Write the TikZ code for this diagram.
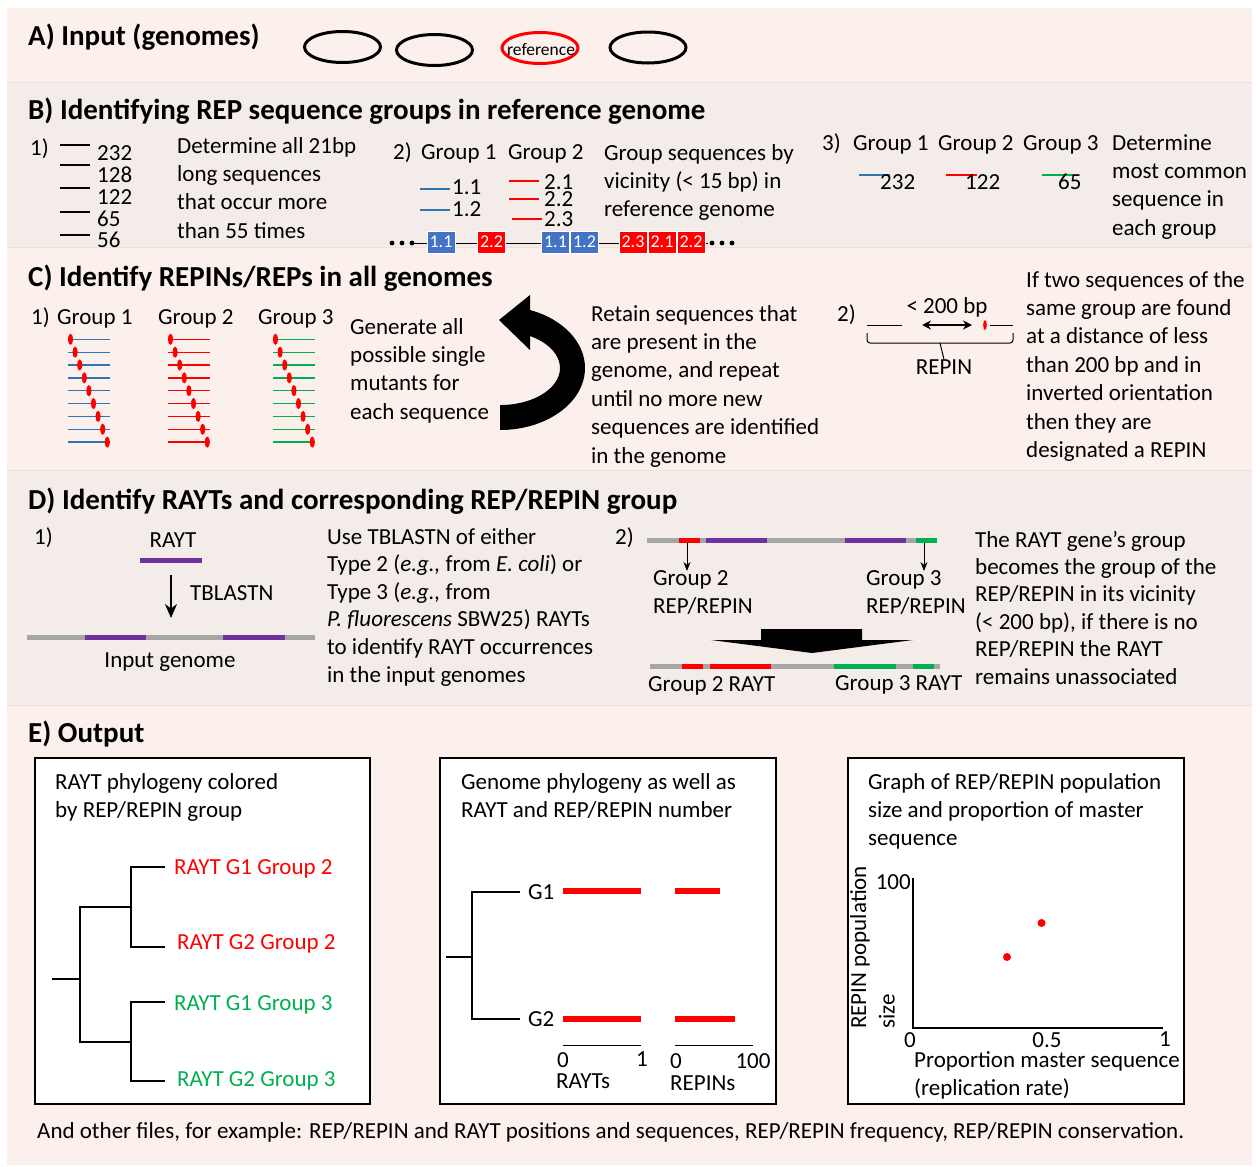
\documentclass[tikz,border=0pt]{standalone}
\usepackage{fontspec}
\setmainfont{Carlito}
\usetikzlibrary{positioning,shapes.geometric,arrows.meta,calc}
\definecolor{bandpeach}{RGB}{251,240,235}
\definecolor{bandgray}{RGB}{243,236,233}
\definecolor{bandline}{RGB}{238,224,216}
\definecolor{seqblue}{RGB}{68,114,196}
\definecolor{lineblue}{RGB}{46,117,182}
\definecolor{repred}{RGB}{255,0,0}
\definecolor{repgreen}{RGB}{0,176,80}
\definecolor{raytpurple}{RGB}{112,48,160}
\definecolor{genomegray}{RGB}{166,166,166}

\begin{document}
\begin{tikzpicture}[
    x=1pt, y=-1pt,
    >=Stealth,
    txt/.style={font=\fontsize{23}{28.4}\selectfont, align=left, anchor=base west, inner sep=0pt},
    lbl/.style={font=\fontsize{23}{28.4}\selectfont, inner sep=0pt},
    num/.style={txt, text height=14pt, text depth=0pt},
    ttl/.style={font=\fontsize{29}{34}\selectfont\bfseries, anchor=base west, inner sep=0pt},
    genome/.style={draw=black, line width=3pt, ellipse, minimum width=76pt, minimum height=31pt, inner sep=0pt},
    seqbox/.style={draw=white, line width=0.8pt, minimum width=28pt, minimum height=22pt, inner sep=0pt, text=white, font=\fontsize{18}{18}\selectfont},
    bar/.style={line width=5pt},
    seqline/.style={line width=1.3pt},
    tree/.style={line width=1.2pt},
    panel/.style={draw=black, line width=2pt, fill=white},
    arr/.style={-{Stealth[length=9pt,width=7pt]}, line width=0.9pt},
    bigarr/.style={-{Stealth[length=14pt,width=12pt]}, line width=2pt}
]
\useasboundingbox (0,0) rectangle (1256,1167);
\fill[white] (0,0) rectangle (1256,1167);
\fill[bandpeach] (7,8) rectangle (1252,82);
\fill[bandgray] (7,82) rectangle (1252,247);
\fill[bandpeach] (7,247) rectangle (1252,470);
\fill[bandgray] (7,470) rectangle (1252,705);
\fill[bandpeach] (7,705) rectangle (1252,1165);
\draw[bandline] (7,82) -- (1252,82);
\draw[bandline] (7,247) -- (1252,247);
\draw[bandline] (7,470) -- (1252,470);
\draw[bandline] (7,705) -- (1252,705);

% A) input
\node[ttl] (inA) at (28,45) {A) Input (genomes)};
\node[genome] (gen1) at (342.5,47) {};
\node[genome] (gen2) at (434.5,50) {};
\node[genome, draw=repred] (genref) at (540,48) {};
\node[font=\fontsize{17.5}{18}\selectfont, inner sep=0pt] (reftxt) at (541,50) {reference};
\node[genome] (gen4) at (648,47.5) {};

% B) REP groups
\node[ttl] (inB) at (28,119) {B) Identifying REP sequence groups in reference genome};
\node[txt] (b1) at (30,155) {1)};
\draw[seqline] (60,145) -- (90,145);
\draw[seqline] (60,165) -- (90,165);
\draw[seqline] (60,188) -- (90,188);
\draw[seqline] (60,212) -- (90,212);
\draw[seqline] (60,235) -- (90,235);
\node[num] (n232) at (97,160) {232};
\node[num] (n128) at (97,182) {128};
\node[num] (n122) at (97,204) {122};
\node[num] (n65) at (97,226) {65};
\node[num] (n56) at (97,247) {56};
\node[txt] (b1txt) at (177,238.2) {Determine all 21bp\\long sequences\\that occur more\\than 55 times};

\node[txt] (b2) at (393,159) {2)};
\node[txt] (b2g1) at (421,159) {Group 1};
\node[txt] (b2g2) at (508,159) {Group 2};
\draw[seqline, lineblue] (420,189) -- (450,189);
\draw[seqline, lineblue] (420,210) -- (450,210);
\node[num] (s11) at (452,194.5) {1.1};
\node[num] (s12) at (452,216.5) {1.2};
\draw[seqline, repred] (509,181) -- (539,181);
\draw[seqline, repred] (509,199) -- (539,199);
\draw[seqline, repred] (512,219) -- (542,219);
\node[num] (s21) at (544,189) {2.1};
\node[num] (s22) at (544,206.5) {2.2};
\node[num] (s23) at (544,226) {2.3};
\node[txt] (b2txt) at (604,216.8) {Group sequences by\\vicinity (< 15 bp) in\\reference genome};
\coordinate (chrL) at (414,243);
\coordinate (chrR) at (708,243);
\draw[line width=1pt] (chrL) -- (chrR);
\fill (392,243) circle (2.4) (402,243) circle (2.4) (412,243) circle (2.4);
\fill (712,243) circle (2.4) (722,243) circle (2.4) (732,243) circle (2.4);
\node[seqbox, fill=seqblue] (k1) at (441,242) {1.1};
\node[seqbox, fill=repred] (k2) at (491.5,242) {2.2};
\node[seqbox, fill=seqblue] (k3) at (555.5,242) {1.1};
\node[seqbox, fill=seqblue] (k4) at (584.5,242) {1.2};
\node[seqbox, fill=repred] (k5) at (633,242) {2.3};
\node[seqbox, fill=repred] (k6) at (662,242) {2.1};
\node[seqbox, fill=repred] (k7) at (691,242) {2.2};

\node[txt] (b3) at (822,150) {3)};
\node[txt] (b3g1) at (853,150) {Group 1};
\node[txt] (b3g2) at (938,150) {Group 2};
\node[txt] (b3g3) at (1023,150) {Group 3};
\draw[seqline, lineblue] (859,175) -- (890,175);
\draw[seqline, repred] (946,175) -- (977,175);
\draw[seqline, repgreen] (1042,175) -- (1073,175);
\node[num] (m232) at (880,189) {232};
\node[num] (m122) at (965,189) {122};
\node[num] (m65) at (1058,189) {65};
\node[txt] (b3txt) at (1112,235.2) {Determine\\most common\\sequence in\\each group};

% C) REPINs
\node[ttl] (inC) at (28,286) {C) Identify REPINs/REPs in all genomes};
\node[txt] (c1) at (31,324) {1)};
\node[txt] (c1g1) at (57,324) {Group 1};
\node[txt] (c1g2) at (158,324) {Group 2};
\node[txt] (c1g3) at (258,324) {Group 3};
\foreach \gx/\gc in {0/lineblue, 100/repred, 205/repgreen} {
  \foreach \i in {0,...,8} {
    \draw[seqline, \gc] (68+\gx,339.3+12.85*\i) -- (110+\gx,339.3+12.85*\i);
    \fill[repred] (70.5+\gx+4.6*\i,339.3+12.85*\i) ellipse (2.6 and 5.6);
  }
}
\node[txt] (c1txt) at (350,419.2) {Generate all\\possible single\\mutants for\\each sequence};
\fill (500,430) arc[start angle=90, end angle=-69.3, x radius=85, y radius=62]
  -- (530,295) -- (499,320) -- (530,350) -- (530,336)
  arc[start angle=-60, end angle=90, x radius=60, y radius=37] -- cycle;
\node[txt] (c1ret) at (591,463) {Retain sequences that\\are present in the\\genome, and repeat\\until no more new\\sequences are identified\\in the genome};

\node[txt] (c2) at (837,321) {2)};
\node[lbl] (c2bp) at (947,307) {< 200 bp};
\draw[line width=1pt] (867,325) -- (902,325);
\draw[{Stealth[length=9pt,width=9pt]}-{Stealth[length=9pt,width=9pt]}, line width=2pt] (922,325) -- (972,325);
\fill[repred] (985,325) ellipse (1.8 and 5);
\draw[line width=1pt] (990,325) -- (1013,325);
\node[lbl] (c2rep) at (944,367) {REPIN};
\draw[line width=1pt, rounded corners=3pt] (867,333) -- (867,343) -- (1013,343) -- (1013,333);
\draw[line width=1pt] (940,343) -- (c2rep.north);
\node[txt] (c2txt) at (1026,457.4) {If two sequences of the\\same group are found\\at a distance of less\\than 200 bp and in\\inverted orientation\\then they are\\designated a REPIN};

% D) RAYTs
\node[ttl] (inD) at (28,509) {D) Identify RAYTs and corresponding REP/REPIN group};
\node[txt] (d1) at (34,544) {1)};
\node[lbl] (dray) at (173,540) {RAYT};
\draw[bar, raytpurple] (140,560) -- (202,560);
\coordinate (dq) at (171,575);
\coordinate (dt) at (171,618);
\draw[bigarr] (dq) -- (dt);
\node[txt] (dbl) at (190,600) {TBLASTN};
\draw[bar, genomegray] (27,637) -- (315,637);
\draw[bar, raytpurple] (85,637) -- (146,637);
\draw[bar, raytpurple] (223,637) -- (285,637);
\node[lbl] (dinp) at (170,662) {Input genome};
\node[txt, font=\fontsize{23}{27.6}\selectfont] (d1txt) at (327,682) {Use TBLASTN of either\\Type 2 (\textit{e.g.,} from \textit{E. coli}) or\\Type 3 (\textit{e.g.,} from\\\textit{P. fluorescens} SBW25) RAYTs\\to identify RAYT occurrences\\in the input genomes};

\node[txt] (d2) at (615,544) {2)};
\draw[bar, genomegray] (647,540) -- (937,540);
\draw[bar, repred] (679,540) -- (700,540);
\draw[bar, raytpurple] (706,540) -- (767,540);
\draw[bar, raytpurple] (845,540) -- (906,540);
\draw[bar, repgreen] (916,540) -- (937,540);
\coordinate (ra) at (687,543);
\coordinate (rb) at (687,571);
\coordinate (ga) at (924,543);
\coordinate (gb) at (924,571);
\draw[arr] (ra) -- (rb);
\draw[arr] (ga) -- (gb);
\node[txt, font=\fontsize{23}{28}\selectfont] (d2g2) at (653,613) {Group 2\\REP/REPIN};
\node[txt, font=\fontsize{23}{28}\selectfont] (d2g3) at (866,613) {Group 3\\REP/REPIN};
\fill (761,629) -- (862,629) -- (862,640) -- (913,640) -- (812,653) -- (711,640) -- (761,640) -- cycle;
\draw[bar, genomegray] (650,666) -- (940,666);
\draw[bar, repred] (682,666) -- (703,666);
\draw[bar, repred] (710,666) -- (771,666);
\draw[bar, repgreen] (834,666) -- (896,666);
\draw[bar, repgreen] (913,666) -- (934,666);
\node[txt] (d2r2) at (648,691) {Group 2 RAYT};
\node[txt] (d2r3) at (835,690) {Group 3 RAYT};
\node[txt, font=\fontsize{23}{27.4}\selectfont] (d2txt) at (975,684) {The RAYT gene’s group\\becomes the group of the\\REP/REPIN in its vicinity\\(< 200 bp), if there is no\\REP/REPIN the RAYT\\remains unassociated};

% E) output
\node[ttl] (inE) at (28,742) {E) Output};
\draw[panel] (35,758) rectangle (370,1104);
\draw[panel] (440,758) rectangle (776,1104);
\draw[panel] (848,758) rectangle (1184,1104);

\node[txt] (e1t) at (55,817.4) {RAYT phylogeny colored\\by REP/REPIN group};
\node[lbl, anchor=west, text=repred] (lr1) at (174,869) {RAYT G1 Group 2};
\node[lbl, anchor=west, text=repred] (lr2) at (177,944) {RAYT G2 Group 2};
\node[lbl, anchor=west, text=repgreen] (lg1) at (174,1005) {RAYT G1 Group 3};
\node[lbl, anchor=west, text=repgreen] (lg2) at (177,1081) {RAYT G2 Group 3};
\coordinate (t0) at (52,979);
\coordinate (t1) at (80,979);
\coordinate (t2) at (131,907);
\coordinate (t3) at (131,1042);
\draw[tree] (t0) -- (t1);
\draw[tree] (t1) |- (t2);
\draw[tree] (t1) |- (t3);
\draw[tree] (t2) |- (165,867);
\draw[tree] (t2) |- (165,947);
\draw[tree] (t3) |- (165,1002);
\draw[tree] (t3) |- (165,1081);

\node[txt] (e2t) at (461,817.4) {Genome phylogeny as well as\\RAYT and REP/REPIN number};
\node[lbl, anchor=west] (eg1) at (528,892) {G1};
\node[lbl, anchor=west] (eg2) at (528,1019) {G2};
\coordinate (u0) at (446,957);
\coordinate (u1) at (472,957);
\draw[tree] (u0) -- (u1);
\draw[tree] (u1) |- ([xshift=-8pt]eg1.west);
\draw[tree] (u1) |- ([xshift=-8pt]eg2.west);
\draw[bar, line width=5.5pt, repred] (563,891) -- (641,891);
\draw[bar, line width=5.5pt, repred] (675,891) -- (720,891);
\draw[bar, line width=5.5pt, repred] (563,1019) -- (641,1019);
\draw[bar, line width=5.5pt, repred] (675,1019) -- (735,1019);
\draw[line width=1pt] (563,1045) -- (641,1045);
\draw[line width=1pt] (675,1045) -- (753,1045);
\node[lbl] (x0a) at (563,1060) {0};
\node[lbl] (x1a) at (642,1059) {1};
\node[lbl, anchor=west] (xra) at (556,1081) {RAYTs};
\node[lbl] (x0b) at (676,1061) {0};
\node[lbl] (x1b) at (753,1061) {100};
\node[lbl, anchor=west] (xrb) at (670,1083) {REPINs};

\node[txt] (e3t) at (868,845.8) {Graph of REP/REPIN population\\size and proportion of master\\sequence};
\coordinate (ax0) at (913,1028);
\draw[line width=1.3pt] (913,878) -- (ax0) -- (1163,1028);
\node[lbl, anchor=east] (y100) at (911,882) {100};
\node[num, anchor=base] (x00) at (910,1047) {0};
\node[num, anchor=base] (x05) at (1047,1047) {0.5};
\node[num, anchor=base] (x10) at (1165,1046) {1};
\fill[repred] (1007,957) circle (4);
\fill[repred] (1041.5,923) circle (4);
\node[txt, rotate=90, anchor=north west] (e3y) at (850,1029) {REPIN population\\size};
\node[txt] (e3x) at (914,1095.4) {Proportion master sequence\\(replication rate)};

\node[txt] (foot) at (37,1138) {And other files, for example: REP/REPIN and RAYT positions and sequences, REP/REPIN frequency, REP/REPIN conservation.};
\end{tikzpicture}
\end{document}
